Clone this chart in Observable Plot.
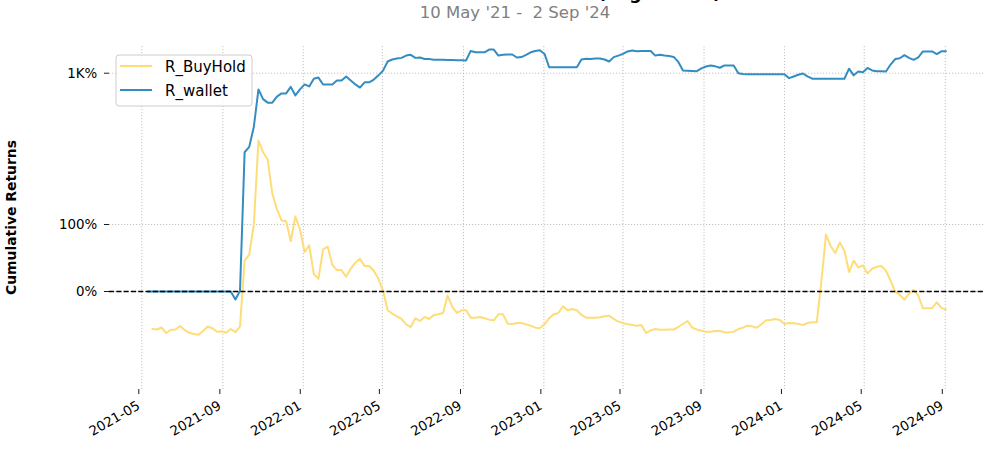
<!DOCTYPE html>
<html><head><meta charset="utf-8">
<script src="https://cdn.jsdelivr.net/npm/d3@7"></script>
<script src="https://cdn.jsdelivr.net/npm/@observablehq/plot@0.6"></script>
<style>
body{margin:0;background:#fff;}
#wrap{position:relative;width:1000px;height:455px;overflow:hidden;}
svg text{font-family:"DejaVu Sans",sans-serif;}
</style></head><body><div id="wrap"></div>
<script>
// ---- data (weekly, Mondays) ----
const startDate = "2021-05-10";
const endDate = "2024-09-02";
const seriesNames = ["R_BuyHold", "R_wallet"];
const seriesColors = ["#fedd78", "#348dc1"];
const titleText = "Cumulative Returns vs Benchmark (Log Scaled)";
const subtitleText = "10 May '21 -  2 Sep '24";
const yLabel = "Cumulative Returns";

const wallet = [
  0,0,0,0,0,0,0,0,0,0, 0,0,0,0,0,0,0,0,0,-0.12,
  0.01,2.21,2.45,3.6,7.34,6.1,5.7,5.7,6.4,6.8,
  6.8,7.7,6.54,7.34,8.07,7.77,9.0,9.2,8.07,8.07,
  8.07,8.71,8.71,9.4,8.71,8.07,7.6,8.4,8.4,8.85,
  9.6,10.5,12.5,13.0,13.25,13.4,14.0,14.2,13.4,13.5,
  13.1,13.1,12.95,12.9,12.9,12.85,12.85,12.8,12.8,12.76,
  15.3,14.9,14.9,14.9,15.7,15.7,14.0,14.2,14.3,14.3,
  13.5,13.6,14.2,14.9,15.3,15.5,14.45,11.2,11.2,11.2,
  11.2,11.2,11.2,11.2,13.0,13.2,13.1,13.25,13.25,13.0,
  12.5,13.6,14.0,14.45,15.15,15.4,15.2,15.3,15.3,15.3,
  14.0,14.2,14.0,13.9,13.65,12.4,10.54,10.5,10.45,10.4,
  10.95,11.37,11.6,11.4,11.1,11.6,11.6,11.6,10.0,9.85,
  9.8,9.8,9.8,9.8,9.8,9.8,9.8,9.8,9.8,9.1,
  9.4,9.7,9.95,9.4,9.0,9.0,9.0,9.0,9.0,9.0,
  9.0,9.0,10.9,9.6,10.34,10.2,11.05,10.54,10.4,10.38,
  10.34,11.8,13.1,13.3,14.1,13.4,12.9,13.5,15.15,15.15,
  15.15,14.4,15.2,15.2
];
const buyHold = [
  null,-0.56,-0.567,-0.537,-0.62,-0.57,-0.567,-0.515,-0.575,-0.616,
  -0.634,-0.646,-0.59,-0.522,-0.548,-0.60,-0.593,-0.615,-0.56,-0.607,
  -0.52,0.46,0.55,1.0,2.77,2.21,1.97,1.46,1.23,1.06,
  1.05,0.75,1.12,0.925,0.59,0.69,0.26,0.19,0.63,0.67,
  0.40,0.32,0.32,0.22,0.34,0.43,0.49,0.38,0.38,0.31,
  0.19,0.01,-0.28,-0.33,-0.37,-0.41,-0.49,-0.53,-0.40,-0.44,
  -0.38,-0.41,-0.35,-0.34,-0.32,-0.06,-0.23,-0.32,-0.28,-0.28,
  -0.39,-0.39,-0.38,-0.40,-0.42,-0.43,-0.34,-0.34,-0.48,-0.485,
  -0.47,-0.47,-0.49,-0.51,-0.54,-0.545,-0.49,-0.40,-0.34,-0.32,
  -0.22,-0.28,-0.26,-0.28,-0.35,-0.39,-0.39,-0.39,-0.385,-0.37,
  -0.36,-0.41,-0.45,-0.47,-0.49,-0.50,-0.51,-0.50,-0.62,-0.58,
  -0.56,-0.57,-0.57,-0.567,-0.567,-0.53,-0.485,-0.44,-0.54,-0.567,
  -0.585,-0.60,-0.60,-0.59,-0.585,-0.61,-0.61,-0.60,-0.56,-0.54,
  -0.51,-0.52,-0.54,-0.49,-0.43,-0.425,-0.41,-0.425,-0.485,-0.47,
  -0.475,-0.485,-0.50,-0.47,-0.46,-0.46,0.15,0.85,0.68,0.575,
  0.73,0.61,0.29,0.46,0.36,0.39,0.27,0.34,0.37,0.38,
  0.31,0.16,0.0,-0.05,-0.12,-0.03,0.025,-0.06,-0.25,-0.25,
  -0.25,-0.16,-0.245,-0.27
];
const xTicks = ["2021-05-01","2021-09-01","2022-01-01","2022-05-01","2022-09-01",
  "2023-01-01","2023-05-01","2023-09-01","2024-01-01","2024-05-01","2024-09-01"];
const yTicks = [0, 1, 10];

// ---- matplotlib-style symlog (linthresh 2, linscale 1, base 10) ----
const LT = 2, LSA = 1 / (1 - 1 / 10);
const msym = v => Math.abs(v) <= LT ? v * LSA : Math.sign(v) * LT * (LSA + Math.log10(Math.abs(v) / LT));
const pctFmt = v => { const p = v * 100; return p >= 1000 ? (p / 1000) + "K%" : p + "%"; };

const dates = d3.utcMonday.range(new Date(startDate), d3.utcDay.offset(new Date(endDate), 1));
const rows = (vals, name) => vals.map((v, i) => ({date: dates[i], v, name}))
  .filter(d => d.v != null && d.date);
const bhData = rows(buyHold, seriesNames[0]);
const wData = rows(wallet, seriesNames[1]);

const yTickT = yTicks.map(msym);
const yLabMap = new Map(yTicks.map(v => [msym(v), pctFmt(v)]));
const xTickDates = xTicks.map(s => new Date(s));
const gridStyle = {stroke: "#b4b4b4", strokeOpacity: 1, strokeWidth: 0.8, strokeDasharray: "1.2,1.8"};

const chart = Plot.plot({
  width: 1000, height: 455,
  marginLeft: 109, marginRight: 15, marginTop: 46, marginBottom: 66,
  style: {fontFamily: "'DejaVu Sans', sans-serif", fontSize: "13.4px", color: "#000", background: "#fff", overflow: "visible"},
  x: {type: "utc", domain: [new Date("2021-03-13"), new Date("2024-11-01")]},
  y: {domain: [-1.625, 4.063]},
  marks: [
    Plot.gridX(xTickDates, gridStyle),
    Plot.gridY(yTickT, gridStyle),
    Plot.line(bhData, {x: "date", y: d => msym(d.v), stroke: seriesColors[0], strokeWidth: 2}),
    Plot.line(wData, {x: "date", y: d => msym(d.v), stroke: seriesColors[1], strokeWidth: 2}),
    Plot.ruleY([0], {stroke: "#000", strokeWidth: 1.3, strokeDasharray: "5.1,2.2"}),
    Plot.axisX(xTickDates, {tickFormat: d3.utcFormat("%Y-%m"), tickRotate: -30, tickSize: 5, tickPadding: 10, dx: -3, label: null, stroke: "#000", strokeWidth: 0.9}),
    Plot.axisY(yTickT, {tickFormat: t => yLabMap.get(t), tickSize: 5, tickPadding: 7.3, label: null, stroke: "#000", strokeWidth: 0.9})
  ]
});
document.getElementById("wrap").appendChild(chart);

const svg = d3.select(chart);
// title (mostly cut off at the top edge, as in the source)
svg.append("text").attr("x", 721).attr("y", -1.3).attr("text-anchor", "end")
  .style("font-size", "17.5px").style("font-weight", "bold").attr("fill", "#000").text(titleText);
svg.append("text").attr("x", 515).attr("y", 17.5).attr("text-anchor", "middle")
  .style("font-size", "16.5px").style("white-space", "pre").attr("fill", "#808080").text(subtitleText);
// y label
svg.append("text").attr("transform", "translate(16,217.5) rotate(-90)").attr("text-anchor", "middle")
  .style("font-size", "13.9px").style("font-weight", "bold").attr("fill", "#000").text(yLabel);
// legend
const lg = svg.append("g");
lg.append("rect").attr("x", 116).attr("y", 55).attr("width", 136).attr("height", 51).attr("rx", 3)
  .attr("fill", "#fff").attr("fill-opacity", 0.8).attr("stroke", "#cccccc").attr("stroke-width", 1);
seriesNames.forEach((n, i) => {
  const y = 66 + i * 24;
  lg.append("line").attr("x1", 120).attr("x2", 152).attr("y1", y).attr("y2", y)
    .attr("stroke", seriesColors[i]).attr("stroke-width", 2);
  lg.append("text").attr("x", 165).attr("y", y + 5.5).attr("text-anchor", "start")
    .style("font-size", "15px").attr("fill", "#000").text(n);
});
</script>
</body></html>
